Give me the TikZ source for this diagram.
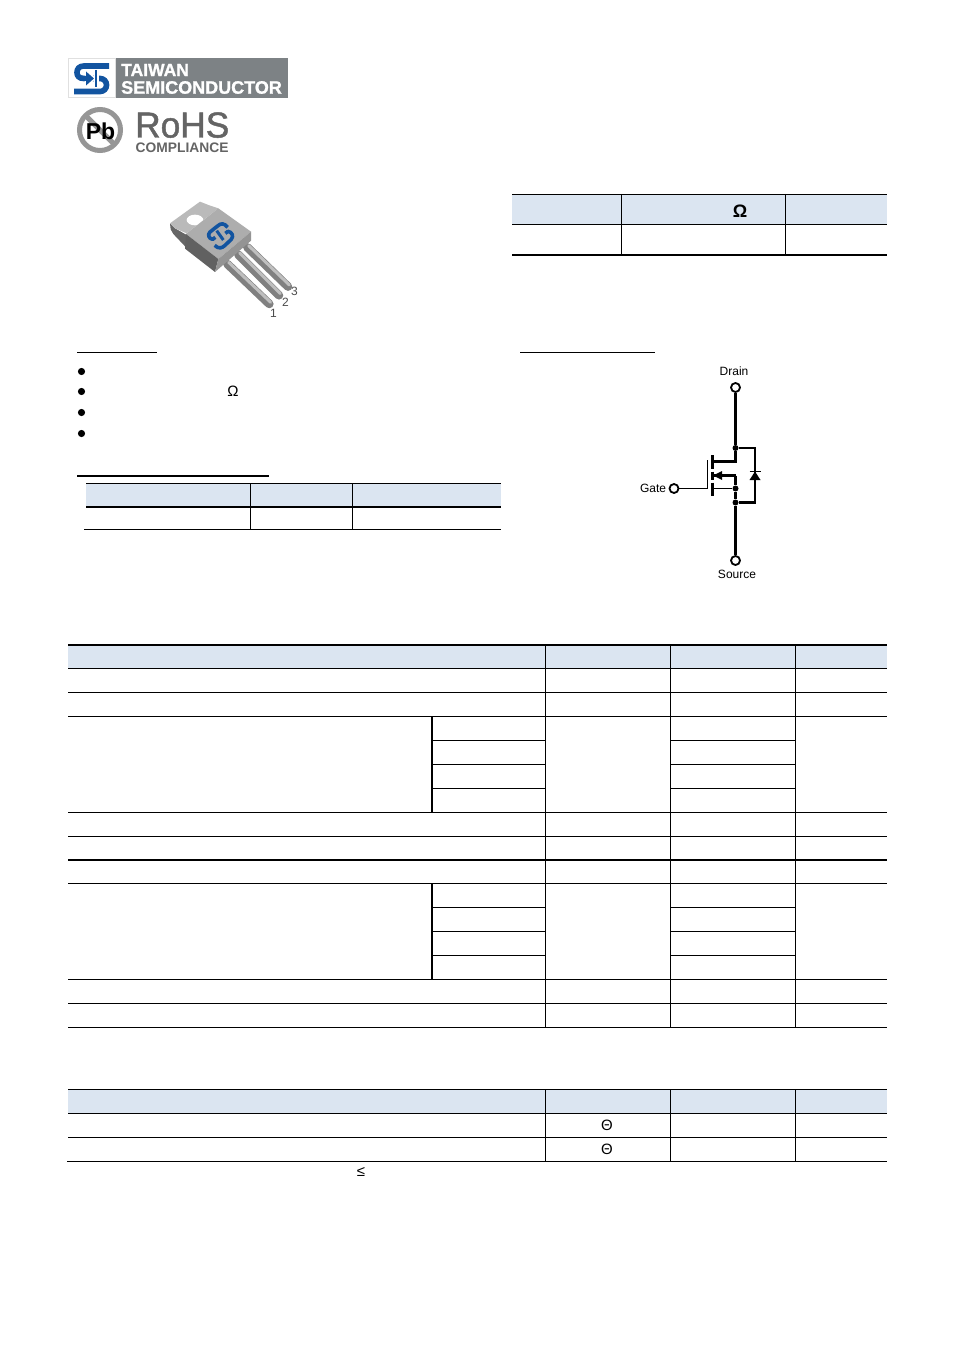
\documentclass[tikz,border=0pt]{standalone}
\usepackage{fontspec}
\setmainfont{Liberation Sans}
\newfontfamily\logofont[FakeBold=1.2]{Liberation Sans Bold}
\newfontfamily\rohsfont[FakeBold=1.3]{Liberation Sans}
\usetikzlibrary{arrows.meta}
\definecolor{hdr}{RGB}{219,229,241}
\definecolor{logogray}{RGB}{125,130,133}
\definecolor{logoblue}{RGB}{18,84,160}
\definecolor{rohsgray}{RGB}{100,100,100}
\definecolor{ringgray}{RGB}{150,150,150}
\tikzset{
  thinrule/.style={line width=1pt,black},
  thickrule/.style={line width=2pt,black},
  wire/.style={line width=2.2pt,black},
  thinwire/.style={line width=1.2pt,black},
  term/.style={circle,draw=black,line width=1.8pt,fill=white,minimum size=9pt,inner sep=0pt},
  dotj/.style={circle,fill=black,minimum size=6pt,inner sep=0pt},
  pinlabel/.style={font=\fontsize{12}{14}\selectfont,inner sep=0pt},
  pkgnum/.style={font=\fontsize{12}{14}\selectfont,text=black!70,inner sep=0pt},
  symbolt/.style={font=\fontsize{15}{16}\selectfont,inner sep=0pt},
  lead/.style={line width=8.5pt,line cap=round,color=black!50},
  leadhi/.style={line width=3pt,line cap=round,color=black!25},
}
\begin{document}
\begin{tikzpicture}[x=1pt,y=-1pt]
\useasboundingbox (0,0) rectangle (954,1351);
\fill[white] (0,0) rectangle (954,1351);

% ---------- logo
\draw[draw=black!12,fill=white,line width=.8pt] (68.5,58.5) rectangle (115,97.5);
\fill[logogray] (115.5,58) rectangle (288,98);
\node[anchor=west,inner sep=0pt,text=white,font=\logofont\fontsize{17.5}{18}\selectfont] (taiwan) at (121,70) {TAIWAN};
\node[anchor=west,inner sep=0pt,text=white,font=\logofont\fontsize{18}{18}\selectfont] (semi) at (121,87.5) {SEMICONDUCTOR};
\draw[logoblue,line width=5.6pt]
  (109,66) -- (84,66) .. controls (79,66) and (77,69) .. (77,72.5)
  .. controls (77,76) and (79,78.5) .. (84,78.5) -- (100,78.5)
  .. controls (104,78.5) and (106.5,81.5) .. (106.5,85)
  .. controls (106.5,88.5) and (104,91.5) .. (100,91.5) -- (74,91.5);
\fill[white] (84.5,72.5) -- (90,72.5) -- (96,78.5) -- (90,84.5) -- (84.5,84.5) -- cycle;
\fill[logoblue] (86,71.5) -- (94,78.5) -- (86,85.5) -- (86,81) -- (82,81) -- (82,76) -- (86,76) -- cycle;
\fill[white] (94,69) rectangle (99,88);
\draw[logoblue,line width=2pt] (96.2,70) -- (96.2,87);

% ---------- RoHS
\draw[ringgray,line width=5pt] (100,130) circle (20.5);
\draw[ringgray,line width=5pt] (85,115) -- (115,145);
\node[inner sep=0pt,font=\bfseries\fontsize{23}{24}\selectfont] (pb) at (100.5,131) {Pb};
\node[anchor=base west,inner sep=0pt,text=rohsgray,font=\rohsfont\fontsize{36}{36}\selectfont] (rohs) at (135,137.5) {\scalebox{.98}[1]{RoHS}};
\node[anchor=base west,inner sep=0pt,text=rohsgray,font=\bfseries\fontsize{13.8}{14}\selectfont] (compl) at (135.5,152.5) {COMPLIANCE};

% ---------- package
\begin{scope}[shift={(150,190)},x=.33333pt,y=-.33333pt]
  \draw[lead] (232,222) -- (358,342);
  \draw[leadhi] (236,217) -- (362,337);
  \draw[lead] (265,194) -- (387,316);
  \draw[leadhi] (269,189) -- (391,311);
  \draw[lead] (292,172) -- (414,290);
  \draw[leadhi] (296,167) -- (418,285);
  \fill[black!60] (60,100) -- (75,115) -- (110,135) -- (108,172) -- (70,132) -- (62,118) -- cycle;
  \fill[black!27] (60,100) -- (150,35) -- (178,46) -- (205,55) -- (110,130) -- (75,115) -- cycle;
  \fill[white] (135,90) ellipse [x radius=25,y radius=16];
  \fill[black!32] (108,132) -- (205,55) -- (303,125) -- (205,207) -- cycle;
  \fill[black!62] (108,132) -- (205,207) -- (195,246) -- (105,176) -- cycle;
  \fill[black!42] (205,207) -- (303,125) -- (303,152) -- (195,246) -- cycle;
  \draw[logoblue,line width=3.6pt,line join=round]
    (233,112) .. controls (222,98) and (212,100) .. (204,107)
    -- (180,126) .. controls (172,134) and (176,146) .. (188,148) -- (196,142);
  \draw[logoblue,line width=3.6pt,line join=round]
    (194,166) .. controls (206,178) and (216,174) .. (224,167)
    -- (244,148) .. controls (252,138) and (246,126) .. (234,124) -- (226,130);
  \draw[logoblue,line width=3pt] (200,122) -- (220,150);
\end{scope}
\node[pkgnum] (p1) at (273.5,313) {1};
\node[pkgnum] (p2) at (285.5,302) {2};
\node[pkgnum] (p3) at (294.5,291.5) {3};

% ---------- top right table
\fill[hdr] (512,194.5) rectangle (886.5,224.5);
\draw[thinrule] (512,194.5) -- (887,194.5);
\draw[thinrule] (512,224.5) -- (887,224.5);
\draw[thickrule] (512,255) -- (887,255);
\foreach \x in {621.5,785.5} \draw[thinrule] (\x,194) -- (\x,255);
\node[inner sep=0pt,font=\bfseries\fontsize{18}{18}\selectfont] (om1) at (740,211) {Ω};

% ---------- section rules and bullets
\draw[thinrule] (77,352.5) -- (157,352.5);
\draw[thinrule] (520,352.5) -- (655,352.5);
\foreach \y in {371.5,391.5,412.5,433.5} \fill[black] (81.5,\y) circle (3.6);
\node[symbolt] (om2) at (233,391) {Ω};
\draw[line width=2pt] (77,475.5) -- (269,475.5);

% ---------- small table
\fill[hdr] (86,483.5) rectangle (501,507);
\draw[thinrule] (86,483.5) -- (501,483.5);
\draw[thickrule] (86,507) -- (501,507);
\draw[thinrule] (84,529.5) -- (501,529.5);
\foreach \x in {250.5,352.5} \draw[thinrule] (\x,483) -- (\x,530);

% ---------- MOSFET symbol
\node[term] (D) at (735.5,387.5) {};
\node[term] (G) at (674,488.5) {};
\node[term] (S) at (735.5,560.5) {};
\node[pinlabel] (Dl) at (734,371.5) {Drain};
\node[pinlabel] (Gl) at (653,488) {Gate};
\node[pinlabel] (Sl) at (737,574) {Source};
\node[dotj] (j1) at (735.5,448) {};
\node[dotj] (j2) at (735.5,488.5) {};
\node[dotj] (j3) at (735.5,502.5) {};
\coordinate (dtop) at (735.5,461.5);
\coordinate (bodyr) at (735.5,475.5);
\coordinate (bodyl) at (713.5,475.5);
\coordinate (srcl) at (713,488.5);
\coordinate (gv) at (707.5,488.5);
\coordinate (r1) at (755,448);
\coordinate (r2) at (755,502.5);
\coordinate (dl) at (712,461.5);
\draw[wire] (D) -- (j1) -- (dtop) -- (dl);
\draw[wire,line join=miter] (j1) -- (r1) -- (r2) -- (j3);
\draw[wire] (bodyr) -- (j2) -- (j3) -- (S);
\draw[wire] (bodyr) -- (bodyl);
\draw[thinwire] (j2) -- (srcl);
\draw[thinwire] (G) -- (gv) -- (707.5,460);
\fill[black] (713,475.5) -- (722,471) -- (722,480) -- cycle;
\draw[line width=3.4pt] (712.5,455) -- (712.5,468.5);
\draw[line width=3.4pt] (712.5,471.5) -- (712.5,479.5);
\draw[line width=3.4pt] (712.5,482.5) -- (712.5,495.5);
\fill[black] (749.5,480) -- (760.5,480) -- (755,471.5) -- cycle;
\draw[line width=1.3pt] (749.5,471.5) -- (760.5,471.5);

% ---------- big table
\fill[hdr] (68,645) rectangle (886.5,668.5);
\draw[thickrule] (68,645) -- (887,645);
\foreach \y in {668.5,692.5,716.5,812.5,836.5,883.5,979.5,1003.5,1027.5}
  \draw[thinrule] (68,\y) -- (887,\y);
\draw[thickrule] (68,860) -- (887,860);
\foreach \y in {740.5,764.5,788.5,907.5,931.5,955.5} {
  \draw[thinrule] (432,\y) -- (545.5,\y);
  \draw[thinrule] (670.5,\y) -- (795.5,\y);
}
\foreach \x in {545.5,670.5,795.5} \draw[thinrule] (\x,645) -- (\x,1027.5);
\draw[thickrule] (432,716.5) -- (432,812.5);
\draw[thickrule] (432,883.5) -- (432,979.5);

% ---------- bottom table
\fill[hdr] (68,1089.5) rectangle (886.5,1113.5);
\draw[thinrule] (68,1089.5) -- (887,1089.5);
\draw[thinrule] (68,1113.5) -- (887,1113.5);
\draw[thinrule] (68,1137.5) -- (887,1137.5);
\draw[thinrule] (67,1161.5) -- (887,1161.5);
\foreach \x in {545.5,670.5,795.5} \draw[thinrule] (\x,1089.5) -- (\x,1161.5);
\node[symbolt] (th1) at (607,1125.5) {Θ};
\node[symbolt] (th2) at (607,1149.5) {Θ};
\node[symbolt] (le) at (361,1172) {≤};
\end{tikzpicture}
\end{document}
